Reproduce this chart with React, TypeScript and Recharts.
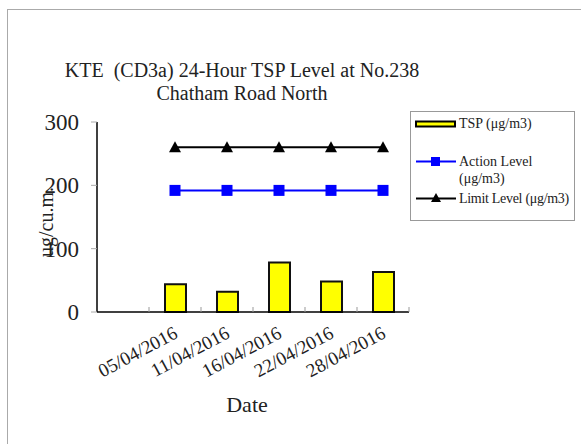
import { ComposedChart, Bar, Line, XAxis, YAxis } from 'recharts';

const dates = ['', '05/04/2016', '11/04/2016', '16/04/2016', '22/04/2016', '28/04/2016'];
const tspValues = [null, 44, 32, 78, 48, 63];
const actionLevel = [null, 192, 192, 192, 192, 192];
const limitLevel = [null, 260, 260, 260, 260, 260];
const yTicks = [0, 100, 200, 300];

const data = dates.map((date, i) => ({
  date,
  tsp: tspValues[i],
  action: actionLevel[i],
  limit: limitLevel[i],
}));

const FONT = '"Liberation Serif", "Times New Roman", serif';

function SquareDot({ cx, cy }: any) {
  if (cx == null || cy == null) return null;
  return <rect x={cx - 5.5} y={cy - 5.5} width={11} height={11} fill="#0000FF" />;
}

function TriangleDot({ cx, cy }: any) {
  if (cx == null || cy == null) return null;
  return (
    <polygon
      points={`${cx},${cy - 6} ${cx - 6},${cy + 5} ${cx + 6},${cy + 5}`}
      fill="#000"
    />
  );
}

function DateTick({ x, y, payload }: any) {
  const tx = x + 4;
  const ty = y + 25;
  return (
    <g>
      <line x1={x + 26} x2={x + 26} y1={y - 5} y2={y} stroke="#999" />
      <text
        x={tx}
        y={ty}
        transform={`rotate(-28 ${tx} ${ty})`}
        textAnchor="end"
        fontFamily={FONT}
        fontSize={19}
        fill="#222"
      >
        {payload.value}
      </text>
    </g>
  );
}

function LegendBox() {
  const row = {
    position: 'absolute' as const,
    left: 48,
    fontSize: 14,
    lineHeight: '17px',
    whiteSpace: 'nowrap' as const,
  };
  return (
    <div
      style={{
        position: 'absolute',
        left: 410,
        top: 111,
        width: 163,
        height: 108,
        border: '1px solid #999',
        background: '#fff',
        fontFamily: FONT,
        color: '#222',
      }}
    >
      <svg width={48} height={108} style={{ position: 'absolute', left: 0, top: 0 }}>
        <rect x={5} y={9.5} width={39} height={5} fill="#FFFF00" stroke="#000" strokeWidth={2} />
        <line x1={5} x2={45} y1={49.5} y2={49.5} stroke="#0000FF" strokeWidth={2} />
        <rect x={20} y={45} width={9} height={9} fill="#0000FF" />
        <line x1={5} x2={45} y1={86.5} y2={86.5} stroke="#000" strokeWidth={2} />
        <polygon points="25,81 20,90 30,90" fill="#000" />
      </svg>
      <div style={{ ...row, top: 3 }}>TSP (μg/m3)</div>
      <div style={{ ...row, top: 41 }}>
        Action Level
        <br />
        (μg/m3)
      </div>
      <div style={{ ...row, top: 78, letterSpacing: -0.3 }}>Limit Level (μg/m3)</div>
    </div>
  );
}

export default function App() {
  return (
    <div
      style={{
        position: 'absolute',
        left: 0,
        top: 0,
        width: 581,
        height: 444,
        overflow: 'hidden',
        background: '#fff',
        fontFamily: FONT,
      }}
    >
      <div
        style={{
          position: 'absolute',
          left: 7,
          top: 9,
          width: 580,
          height: 440,
          borderLeft: '1px solid #aaa',
          borderTop: '1px solid #aaa',
        }}
      />
      <div
        style={{
          position: 'absolute',
          left: 0,
          width: 484,
          top: 59,
          textAlign: 'center',
          fontSize: 20,
          lineHeight: '23px',
          color: '#222',
        }}
      >
        KTE&nbsp;&nbsp;(CD3a) 24-Hour TSP Level at No.238
        <br />
        Chatham Road North
      </div>

      <div style={{ position: 'absolute', left: 0, top: 0 }}>
        <ComposedChart
          width={581}
          height={444}
          data={data}
          margin={{ top: 122, right: 172, bottom: 72, left: 37 }}
        >
          <XAxis
            dataKey="date"
            height={60}
            axisLine={{ stroke: '#000', strokeWidth: 1.5 }}
            tickLine={false}
            tickSize={0}
            tickMargin={0}
            interval={0}
            tick={<DateTick />}
          />
          <YAxis
            width={60}
            domain={[0, 300]}
            ticks={yTicks}
            interval={0}
            axisLine={{ stroke: '#000', strokeWidth: 1.5 }}
            tickLine={{ stroke: '#aaa' }}
            tickSize={6}
            tickMargin={12}
            tick={{ fontFamily: FONT, fontSize: 23, fill: '#222' }}
          />
          <Bar
            dataKey="tsp"
            barSize={21}
            fill="#FFFF00"
            stroke="#111"
            strokeWidth={2}
            isAnimationActive={false}
          />
          <Line
            dataKey="action"
            stroke="#0000FF"
            strokeWidth={2}
            dot={<SquareDot />}
            activeDot={false}
            isAnimationActive={false}
          />
          <Line
            dataKey="limit"
            stroke="#000"
            strokeWidth={2}
            dot={<TriangleDot />}
            activeDot={false}
            isAnimationActive={false}
          />
        </ComposedChart>
      </div>

      <div
        style={{
          position: 'absolute',
          left: 36,
          top: 212,
          width: 20,
          height: 20,
          fontSize: 20,
          color: '#222',
        }}
      >
        <div
          style={{
            position: 'absolute',
            left: '50%',
            top: '50%',
            whiteSpace: 'nowrap',
            transform: 'translate(-50%, -50%) rotate(-90deg)',
          }}
        >
          ug/cu.m.
        </div>
      </div>

      <div
        style={{
          position: 'absolute',
          left: 207,
          width: 80,
          top: 392,
          textAlign: 'center',
          fontSize: 22,
          color: '#222',
        }}
      >
        Date
      </div>

      <LegendBox />
    </div>
  );
}
